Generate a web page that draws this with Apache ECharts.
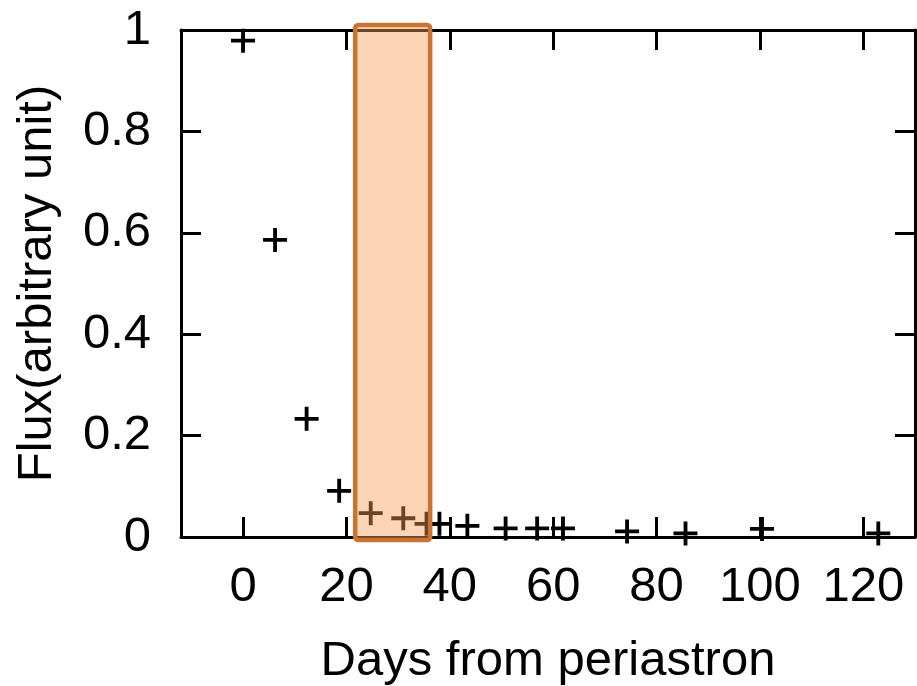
<!DOCTYPE html>
<html>
<head>
<meta charset="utf-8">
<script src="https://cdn.jsdelivr.net/npm/echarts@6/dist/echarts.min.js"></script>
<style>
  html, body { margin: 0; padding: 0; background: #ffffff; }
  #chart { width: 917px; height: 686px; }
</style>
</head>
<body>
<div id="chart"></div>
<script>
// ---- data ----
const days = [0, 6.2, 12.3, 18.6, 24.7, 31.0, 35.5, 38.0, 43.4, 50.8, 56.9, 61.9, 74.3, 85.6, 100.4, 122.9];
const flux = [0.979, 0.586, 0.233, 0.091, 0.047, 0.037, 0.026, 0.026, 0.022, 0.017, 0.017, 0.017, 0.011, 0.007, 0.016, 0.007];
const xTicks = [0, 20, 40, 60, 80, 100, 120];
const boxStart = [21.7];
const boxEnd = [36.2];
const xLabel = 'Days from periastron';
const yLabel = 'Flux(arbitrary unit)';

// ---- chart ----
const points = days.map((d, i) => [d, flux[i]]);
const boxes = boxStart.map((s, i) => [s, boxEnd[i]]);
const FONT = "'Liberation Sans', Arial, sans-serif";
const FS = 49;
const plusPath = 'path://M-1.6,-10H1.6V-1.6H10V1.6H1.6V10H-1.6V1.6H-10V-1.6H-1.6Z';

const axisLine = { show: true, onZero: false, lineStyle: { color: '#000', width: 3 } };
const tickStyle = { lineStyle: { color: '#000', width: 3 } };

const chart = echarts.init(document.getElementById('chart'), null, { renderer: 'canvas' });
chart.setOption({
  animation: false,
  backgroundColor: '#ffffff',
  grid: { left: 181, right: 2, top: 30, bottom: 149, containLabel: false, outerBoundsMode: 'none' },
  xAxis: [
    {
      type: 'value', position: 'bottom', min: -12, max: 130,
      axisLine: axisLine,
      axisTick: Object.assign({ show: true, inside: true, length: 20, customValues: xTicks }, tickStyle),
      axisLabel: { show: true, customValues: xTicks, fontSize: FS, color: '#000', fontFamily: FONT, margin: 26 },
      splitLine: { show: false },
      name: xLabel, nameLocation: 'middle', nameGap: 100,
      nameTextStyle: { fontSize: FS, color: '#000', fontFamily: FONT }
    },
    {
      type: 'value', position: 'top', min: -12, max: 130,
      axisLine: axisLine,
      axisTick: Object.assign({ show: true, inside: true, length: 20, customValues: xTicks }, tickStyle),
      axisLabel: { show: false },
      splitLine: { show: false }
    }
  ],
  yAxis: [
    {
      type: 'value', position: 'left', min: 0, max: 1, interval: 0.2,
      axisLine: axisLine,
      axisTick: Object.assign({ show: true, inside: true, length: 20 }, tickStyle),
      axisLabel: { show: true, fontSize: FS, color: '#000', fontFamily: FONT, margin: 30 },
      splitLine: { show: false },
      name: yLabel, nameLocation: 'middle', nameGap: 119,
      nameTextStyle: { fontSize: FS, color: '#000', fontFamily: FONT }
    },
    {
      type: 'value', position: 'right', min: 0, max: 1, interval: 0.2,
      axisLine: axisLine,
      axisTick: Object.assign({ show: true, inside: true, length: 20 }, tickStyle),
      axisLabel: { show: false },
      splitLine: { show: false }
    }
  ],
  series: [
    {
      type: 'scatter',
      xAxisIndex: 0, yAxisIndex: 0,
      data: points,
      symbol: plusPath,
      symbolSize: 24,
      itemStyle: { color: '#000', opacity: 1 },
      z: 2
    },
    {
      type: 'custom',
      xAxisIndex: 0, yAxisIndex: 0,
      data: boxes,
      clip: false,
      z: 5,
      renderItem: function (params, api) {
        const p0 = api.coord([api.value(0), 1]);
        const p1 = api.coord([api.value(1), 0]);
        return {
          type: 'rect',
          shape: { x: p0[0], y: p0[1] - 5, width: p1[0] - p0[0], height: p1[1] - p0[1] + 8, r: 3 },
          style: { fill: 'rgba(249,158,88,0.43)', stroke: '#C87533', lineWidth: 4.5 }
        };
      }
    }
  ]
});
</script>
</body>
</html>
